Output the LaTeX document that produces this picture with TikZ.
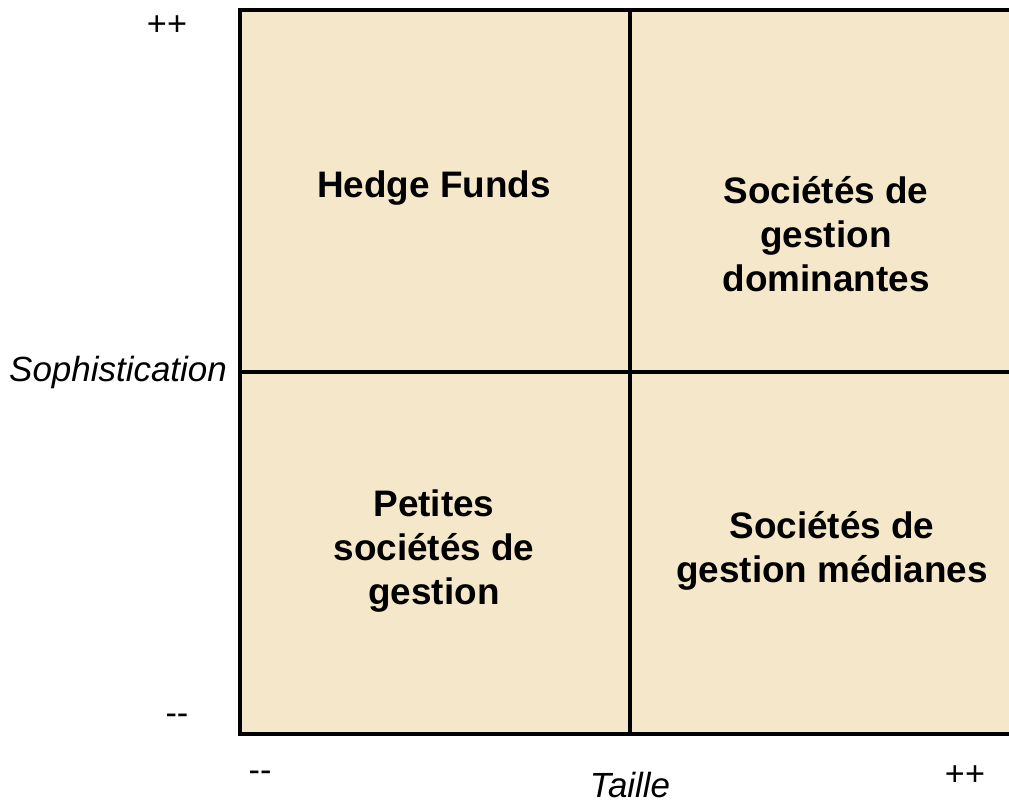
\documentclass[tikz,border=0pt]{standalone}
\usepackage{fontspec}
\setmainfont{Liberation Sans}
\usetikzlibrary{positioning}
\definecolor{cellfill}{HTML}{F5E7C9}
\tikzset{
    cell/.style={rectangle,draw,line width=1.9pt,fill=cellfill,minimum width=7.8cm,minimum height=7.24cm,inner sep=0pt,outer sep=0pt},
    quad/.style={font=\fontsize{21}{25}\selectfont\bfseries,align=center},
    tick/.style={font=\fontsize{19.5}{23}\selectfont},
    axisname/.style={font=\fontsize{19.9}{23}\selectfont\itshape,inner sep=1pt}
}

\begin{document}
\begin{tikzpicture}[x=0.02cm,y=-0.02cm]

                \useasboundingbox (0,0) rectangle (1009,806);

                \node[cell] (hedge)    at (435,191)                {};
                \node[cell] (dominant) [right=0pt of hedge]        {};
                \node[cell] (small)    [below=0pt of hedge]        {};
                \node[cell] (median)   [right=0pt of small]        {};

                \node[quad] (hedge text)    at (434,188) {Hedge Funds};
                \node[quad] (dominant text) at (826,234) {Sociétés de\\gestion\\dominantes};
                \node[quad] (small text)    at (434,551) {Petites\\sociétés de\\gestion};
                \node[quad] (median text)   at (832,551) {Sociétés de\\gestion médianes};

                \node[axisname] (soph)  [anchor=east] at (229,372) {Sophistication};
                \node[axisname] (size)  at (630,785)               {Taille};

                \node[tick] (soph high) at (167,26)  {++};
                \node[tick] (soph low)  at (177,719) {-{}-};
                \node[tick] (size low)  at (260,776) {-{}-};
                \node[tick] (size high) at (965,776) {++};

            \end{tikzpicture}
\end{document}
